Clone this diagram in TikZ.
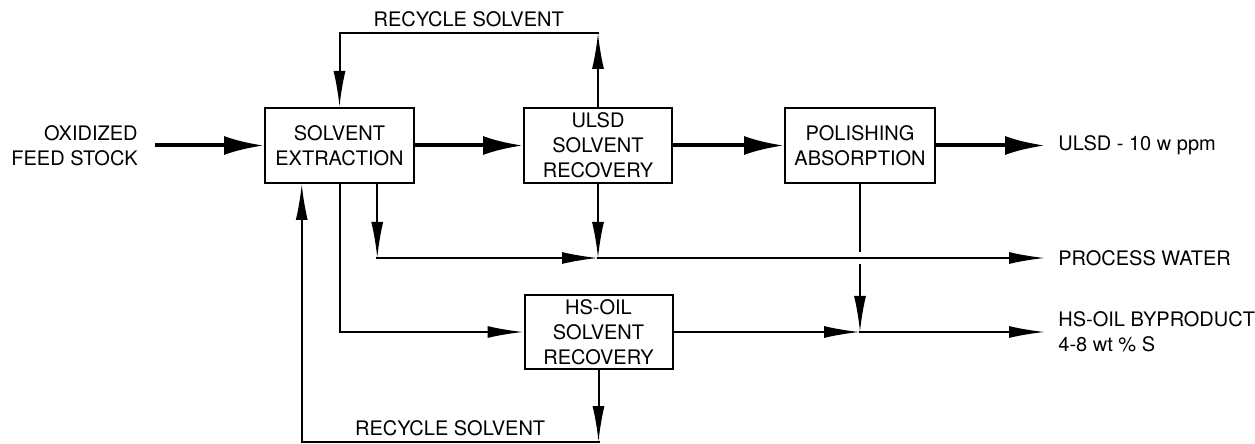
\documentclass[tikz,border=0pt]{standalone}
\usepackage{fontspec}
\setmainfont{TeX Gyre Heros}
\usetikzlibrary{arrows.meta,positioning,calc}
\tikzset{
  blk/.style  ={draw=black,line width=1pt,align=center,inner sep=0pt,
                minimum width=74.5pt,minimum height=37.5pt},
  lbl/.style  ={anchor=west,align=left,inner xsep=6.5pt,inner ysep=0pt},
  rlbl/.style ={above,inner ysep=2.5pt},
  pipe/.style ={draw=black,line width=1pt,line cap=rect},
  sig/.style  ={pipe,-{Latex[length=18pt,width=6pt]}},
  flow/.style ={draw=black,line width=2pt,-{Latex[length=20pt,width=9.5pt]}},
}

\begin{document}
\begin{tikzpicture}[x=0.5pt,y=-0.5pt,font=\fontsize{10}{12.5}\selectfont]
\useasboundingbox (0,0) rectangle (1255,444);

% ---- units ------------------------------------------------------------
\node[blk] (sx) at (339.5,145.5) {SOLVENT\\EXTRACTION};
\node[blk,minimum width=74pt] (ur) at (598,145.5) {ULSD\\SOLVENT\\RECOVERY};
\node[blk,minimum width=75pt] (pa) at (860,145.5) {POLISHING\\ABSORPTION};
\node[blk,minimum width=74pt,minimum height=37pt] (hr) at (598.5,332) {HS-OIL\\SOLVENT\\RECOVERY};

% ---- feed and products ------------------------------------------------
\node[anchor=east,align=right,inner xsep=8.5pt,inner ysep=0pt] (feed) at (155,145.5)
  {OXIDIZED\\FEED STOCK};
\node[lbl] (uo) at (1045,145.5) {ULSD - 10 w ppm};
\node[lbl] (pw) at (1045,258) {PROCESS WATER};
\node[lbl] (bo) at (1045,332) {HS-OIL BYPRODUCT\\4-8 wt \% S};

\coordinate (rt)  at (0,33);
\coordinate (rb)  at (0,442);
\coordinate (pwl) at (0,258);
\coordinate (sxA) at ($(sx.south west)!.25!(sx.south east)$);
\coordinate (sxC) at ($(sx.south west)!.75!(sx.south east)$);
\coordinate (hj)  at (pa.south |- hr.east);

% ---- main stream ------------------------------------------------------
\foreach \a/\b in {feed/sx,sx/ur,ur/pa,pa/uo}{\draw[flow] (\a) -- (\b);}

% ---- recycle solvent (top) --------------------------------------------
\draw[sig] (ur.north) -- (ur.north |- rt);
\draw[sig] (ur.north |- rt) -| node[rlbl,pos=.25] {RECYCLE SOLVENT} (sx.north);

% ---- process water ----------------------------------------------------
\draw[sig] (sxC) -- (sxC |- pwl);
\draw[sig] (sxC |- pwl) -- (ur.south |- pwl);
\draw[sig] (ur.south) -- (ur.south |- pwl);
\draw[sig] (ur.south |- pwl) -- (pw);

% ---- hs-oil -----------------------------------------------------------
\draw[sig] (sx.south) |- (hr.west);
\draw[pipe] (pa.south) -- ($(pa.south |- pwl)+(0,-7)$);
\draw[sig] ($(pa.south |- pwl)+(0,7)$) -- (hj);
\draw[sig] (hr.east) -- (hj);
\draw[sig] (hj) -- (bo);

% ---- recycle solvent (bottom) -----------------------------------------
\draw[sig] (hr.south) -- (hr.south |- rb);
\draw[sig] (hr.south |- rb) -| node[rlbl,pos=.25] {RECYCLE SOLVENT} (sxA);
\end{tikzpicture}
\end{document}
